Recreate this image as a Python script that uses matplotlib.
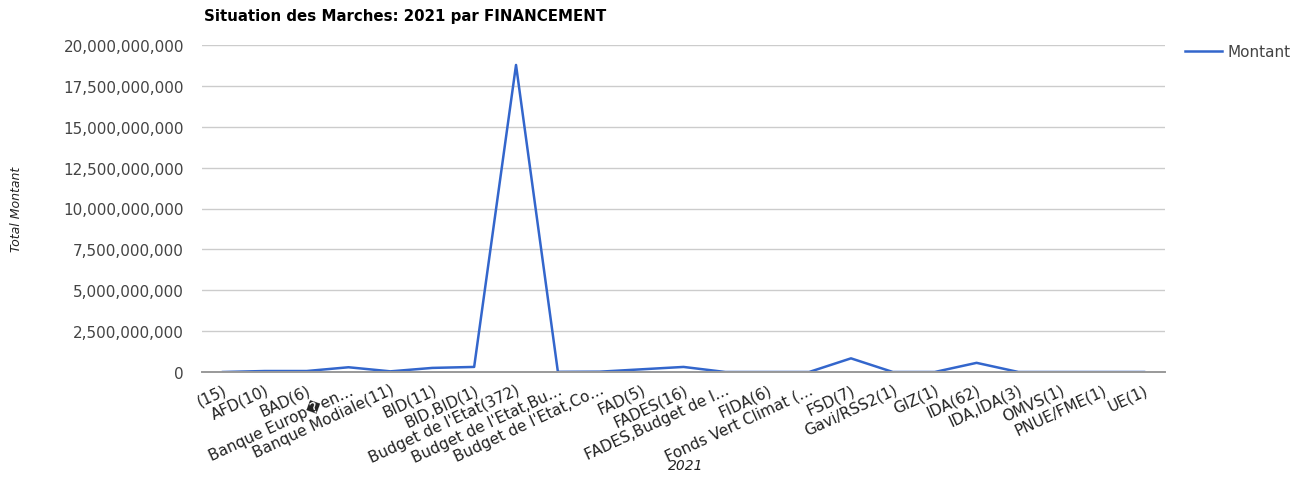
import numpy as np
import matplotlib.pyplot as plt
from matplotlib.ticker import FuncFormatter

plt.rcParams['font.family'] = ['DejaVu Sans']

categories = ['(15)', 'AFD(10)', 'BAD(6)', 'Banque Europ\ufffden\u2026', 'Banque Modiale(11)',
              'BID(11)', 'BID,BID(1)', "Budget de l'Etat(372)", "Budget de l'Etat,Bu\u2026",
              "Budget de l'Etat,Co\u2026", 'FAD(5)', 'FADES(16)', 'FADES,Budget de l\u2026',
              'FIDA(6)', 'Fonds Vert Climat (\u2026', 'FSD(7)', 'Gavi/RSS2(1)', 'GIZ(1)',
              'IDA(62)', 'IDA,IDA(3)', 'OMVS(1)', 'PNUE/FME(1)', 'UE(1)']
montant = [0, 60e6, 60e6, 290e6, 40e6,
           250e6, 310e6, 18.78e9, 10e6,
           20e6, 165e6, 310e6, 0,
           0, 0, 835e6, 0, 0,
           560e6, 0, 0, 0, 0]
yticks = np.arange(0, 20e9 + 1, 2.5e9)


def main():
    fig = plt.figure(figsize=(13.08, 4.81), dpi=100)
    ax = fig.add_axes([202 / 1308, 1 - 373 / 481, (1165 - 202) / 1308, (373 - 46) / 481])
    x = np.arange(len(categories))
    ax.plot(x, montant, color='#3366cc', lw=1.8, label='Montant')
    ax.set_xlim(-0.5, len(categories) - 0.5)
    ax.set_ylim(0, 20e9)
    ax.set_yticks(yticks)
    ax.yaxis.set_major_formatter(FuncFormatter(lambda v, p: '{:,.0f}'.format(v)))
    ax.grid(axis='y', color='#cccccc', lw=1)
    ax.set_axisbelow(True)
    for s in ['top', 'right', 'left']:
        ax.spines[s].set_visible(False)
    ax.spines['bottom'].set_color('#999999')
    ax.spines['bottom'].set_linewidth(1.4)
    ax.spines['bottom'].set_zorder(3)
    ax.tick_params(axis='y', length=0, pad=13, labelsize=11, labelcolor='#444444')
    ax.tick_params(axis='x', length=0, pad=7, labelsize=11, labelcolor='#222222')
    ax.set_xticks(x)
    ax.set_xticklabels(categories, rotation=25, ha='right', rotation_mode='anchor')
    fig.text(204 / 1308, 1 - 17 / 481, 'Situation des Marches: 2021 par FINANCEMENT',
             fontsize=10.8, fontweight='bold', va='center', ha='left', color='#000000')
    fig.text(17 / 1308, 1 - 209 / 481, 'Total Montant', rotation=90, style='italic',
             fontsize=9, va='center', ha='center', color='#222222')
    fig.text(686 / 1308, 1 - 466 / 481, '2021', style='italic',
             fontsize=10, va='center', ha='center', color='#222222')
    ax.legend(loc='center left', bbox_to_anchor=(1185 / 1308, 1 - 53 / 481),
              bbox_transform=fig.transFigure, frameon=False, borderpad=0,
              borderaxespad=0, fontsize=11, handlelength=2.4, handletextpad=0.4,
              labelcolor='#444444')
    fig.savefig('out.png', dpi=100)


if __name__ == '__main__':
    main()
